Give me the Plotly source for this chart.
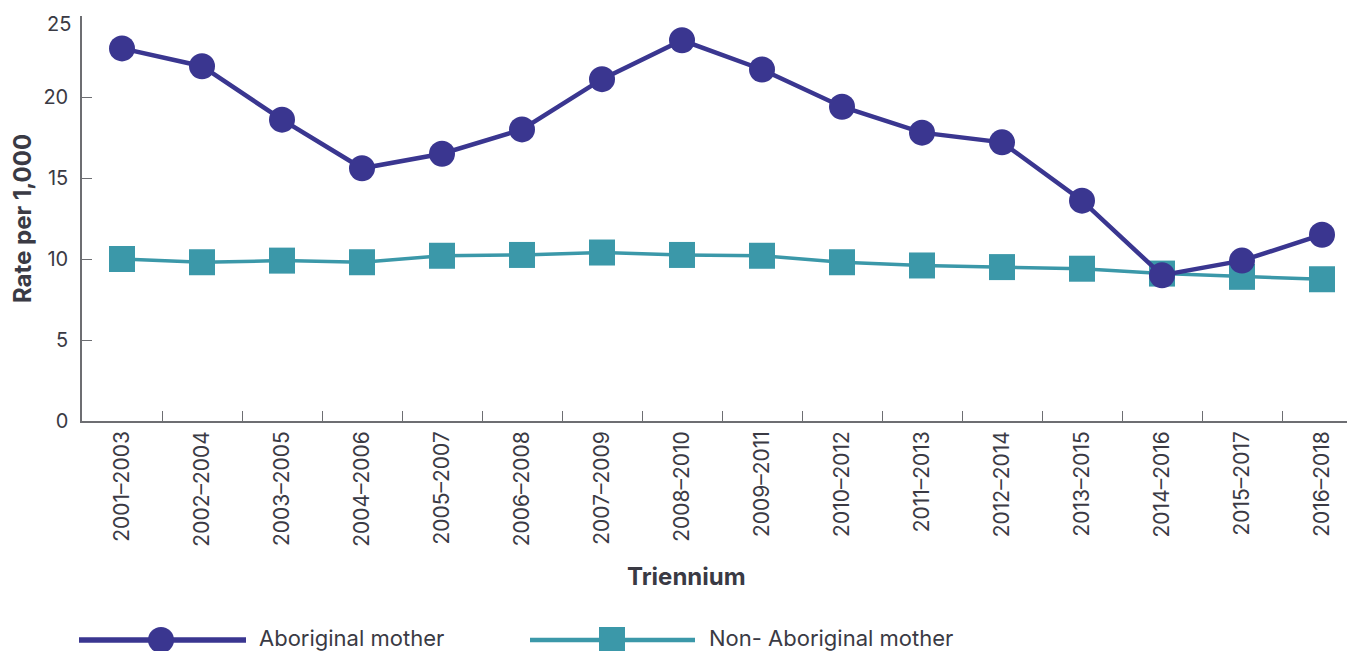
import plotly.graph_objects as go

categories = ["2001–2003", "2002–2004", "2003–2005", "2004–2006", "2005–2007", "2006–2008",
              "2007–2009", "2008–2010", "2009–2011", "2010–2012", "2011–2013", "2012–2014",
              "2013–2015", "2014–2016", "2015–2017", "2016–2018"]
aboriginal = [23.0, 21.9, 18.6, 15.6, 16.5, 18.0, 21.1, 23.5, 21.7, 19.4, 17.8, 17.2, 13.6, 9.0, 9.9, 11.5]
non_aboriginal = [10.0, 9.8, 9.9, 9.8, 10.2, 10.25, 10.4, 10.25, 10.2, 9.8, 9.6, 9.5, 9.4, 9.1, 8.9, 8.75]
y_ticks = [0, 5, 10, 15, 20]
y_top = 25
series_names = ["Aboriginal mother", "Non- Aboriginal mother"]

DARK = "#3a3690"
TEAL = "#3b98a9"
AXIS = "#6d6e72"
TEXT = "#3a3a44"
FONT = "Inter"

# page body has an 8px margin; compensate so the plot area lands where the reference has it
OFF = 8
W, H = 1355 - OFF, 651 - OFF
PLOT_L, PLOT_T, PLOT_B = 82, 16, 421
ML, MR, MT = PLOT_L - OFF, 0, PLOT_T - OFF
MB = H - MT - (PLOT_B - PLOT_T)
PW, PH = W - ML - MR, PLOT_B - PLOT_T

fig = go.Figure()
fig.add_trace(go.Scatter(x=categories, y=non_aboriginal, mode="lines+markers", name=series_names[1],
                         line=dict(color=TEAL, width=3.5),
                         marker=dict(symbol="square", size=26, color=TEAL, line=dict(width=0)),
                         showlegend=False))
fig.add_trace(go.Scatter(x=categories, y=aboriginal, mode="lines+markers", name=series_names[0],
                         line=dict(color=DARK, width=4.5),
                         marker=dict(symbol="circle", size=26, color=DARK, line=dict(width=0)),
                         showlegend=False))


def px_x(px):
    return (px - PLOT_L) / PW


def px_y(py):
    return (PLOT_B - py) / PH


# manual legend (long line symbols as in the reference)
legend_y = px_y(640)
items = [(79, 246, 161, 257, "circle", DARK, 4.5, series_names[0]),
         (530, 695, 612, 707, "square", TEAL, 3.5, series_names[1])]
for x0, x1, mx, tx, sym, col, lw, name in items:
    fig.add_shape(type="line", xref="paper", yref="paper", x0=px_x(x0), x1=px_x(x1),
                  y0=legend_y, y1=legend_y, line=dict(color=col, width=lw + 1))
    fig.add_shape(type="circle" if sym == "circle" else "rect", xref="paper", yref="paper",
                  xsizemode="pixel", ysizemode="pixel", xanchor=px_x(mx), yanchor=legend_y,
                  x0=-13, x1=13, y0=-13, y1=13, fillcolor=col, line=dict(width=0))
    fig.add_annotation(text=name, xref="paper", yref="paper", x=px_x(tx), y=px_y(638),
                       xanchor="left", yanchor="middle", showarrow=False,
                       font=dict(family=FONT, size=22, color=TEXT))

fig.add_annotation(text="<b>Triennium</b>", xref="paper", yref="paper", x=px_x(686), y=px_y(576),
                   xanchor="center", yanchor="middle", showarrow=False,
                   font=dict(family=FONT, size=24, color=TEXT))

# top y tick label sits a little below its tick (as in the reference)
fig.add_annotation(text=str(y_top), xref="paper", yref="y", x=0, y=y_top, xanchor="right",
                   yanchor="middle", xshift=-9, yshift=-8, showarrow=False,
                   font=dict(family=FONT, size=20, color=TEXT))

fig.update_layout(
    width=W, height=H,
    margin=dict(l=ML, r=MR, t=MT, b=MB),
    paper_bgcolor="white", plot_bgcolor="white",
    font=dict(family=FONT, color=TEXT),
    showlegend=False,
    xaxis=dict(
        type="category", range=[-0.5, -0.5 + PW / 80.0],
        showgrid=False, zeroline=False,
        showline=True, linecolor=AXIS, linewidth=1.5,
        ticks="inside", tickson="boundaries", ticklen=10, tickcolor=AXIS, tickwidth=1.3,
        tickangle=-90, tickfont=dict(family=FONT, size=21, color=TEXT),
    ),
    yaxis=dict(
        range=[0, y_top], tickvals=y_ticks + [y_top], ticktext=[str(v) for v in y_ticks] + [""],
        showgrid=False, zeroline=False,
        showline=True, linecolor=AXIS, linewidth=1.5,
        ticks="inside", ticklen=10, tickcolor=AXIS, tickwidth=1.3,
        ticklabelstandoff=8,
        tickfont=dict(family=FONT, size=20, color=TEXT),
        title=dict(text="<b>Rate per 1,000</b>", font=dict(family=FONT, size=24, color=TEXT), standoff=6),
    ),
)

fig.write_html("out.html")
